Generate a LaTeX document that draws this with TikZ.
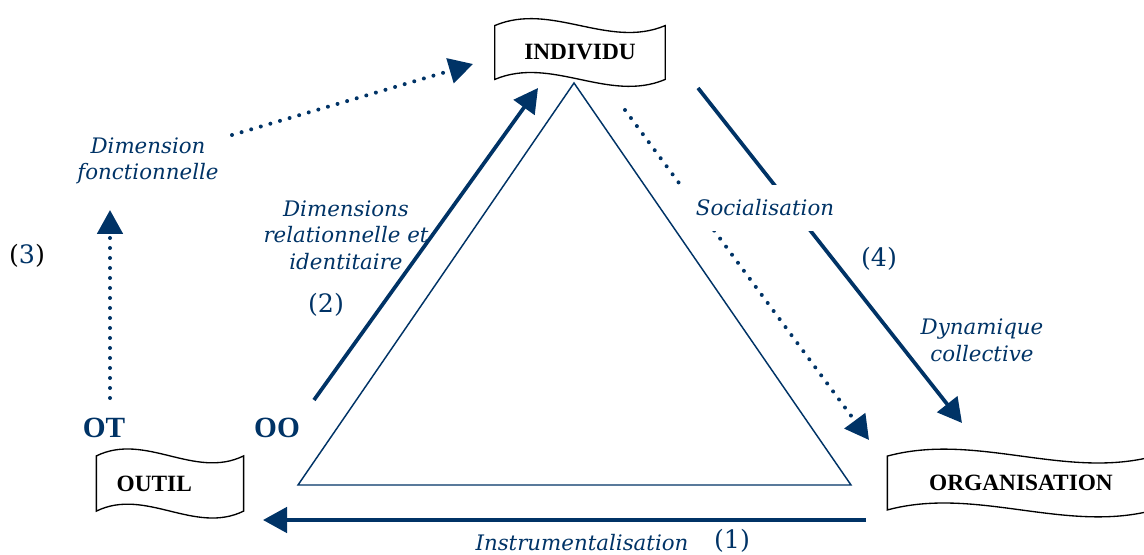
\documentclass[tikz,border=0pt]{standalone}
\usepackage{fontspec}
\setmainfont{DejaVu Serif}
\newfontfamily\timesfont{Liberation Serif}
\usetikzlibrary{arrows.meta,calc}
\definecolor{navy}{RGB}{0,51,102}

\begin{document}
\begin{tikzpicture}[x=0.75pt,y=-0.75pt]
  \tikzstyle{banner}=[inner sep=0pt,font=\timesfont\bfseries\fontsize{17.5}{20}\selectfont]
  \tikzstyle{lab}=[text=navy,font=\itshape\fontsize{16}{20}\selectfont,align=center,inner sep=0pt]
  \tikzstyle{num}=[text=navy,font=\fontsize{19}{22}\selectfont,inner sep=0pt]
  \tikzstyle{big}=[text=navy,font=\timesfont\bfseries\fontsize{22}{24}\selectfont,inner sep=0pt]
  \tikzstyle{arr}=[navy,line width=2.8pt,-{Triangle[length=18pt,width=19pt]}]
  \tikzstyle{dots}=[arr,line width=3pt,line cap=round,dash pattern=on 0pt off 7.5pt]
  \useasboundingbox (0,0) rectangle (1144,555);
  % triangle
  \draw[navy,line width=1.1pt] (574,83) -- (298,485) -- (851,485) -- cycle;
  % banners
  \node[banner,minimum width=127.5pt,minimum height=40pt] (individu) at (580,52.5) {INDIVIDU};
  \node[banner,minimum width=110pt,minimum height=41pt,text width=80pt,align=left] (outil) at (170,483.5) {OUTIL};
  \node[banner,minimum width=200pt,minimum height=40pt] (organisation) at (1021,483) {ORGANISATION};
  \foreach \n in {individu,outil,organisation}
    \draw[line width=1pt] (\n.north west)
      .. controls ($(\n.north west)!1/3!(\n.north east)+(0,-24)$) and ($(\n.north west)!2/3!(\n.north east)+(0,24)$) .. (\n.north east)
      -- (\n.south east)
      .. controls ($(\n.south west)!2/3!(\n.south east)+(0,24)$) and ($(\n.south west)!1/3!(\n.south east)+(0,-24)$) .. (\n.south west)
      -- cycle;
  % labels
  \node[big] (ot) at (104,428) {OT};
  \node[big] (oo) at (277,428) {OO};
  \node[lab] (fonct) at (148,161) {Dimension\\fonctionnelle};
  \node[lab] (relid) at (346,235) {Dimensions\\relationnelle et\\identitaire};
  \node[lab] (dyn) at (982,340) {Dynamique\\collective};
  \node[lab] (instr) at (582,543) {Instrumentalisation};
  \node[num] (n1) at (732,541) {(1)};
  \node[num] (n2) at (326,305) {(2)};
  \node[num] (n3) at (27,256) {\textcolor{black}{(}3\textcolor{black}{)}};
  \node[num] (n4) at (879,259) {(4)};
  % free ends
  \coordinate (instr r) at (866,520);
  \coordinate (instr l) at (263,520);
  \coordinate (oo top) at (314,400);
  \coordinate (ind bl) at (538,88);
  \coordinate (ind br) at (698,88);
  \coordinate (org tr) at (962,423);
  \coordinate (ind bm) at (625,110);
  \coordinate (org tl) at (869,440);
  \coordinate (ot top) at (110,398);
  \coordinate (fonct bot) at (110,210);
  \coordinate (fonct r) at (232,135);
  \coordinate (ind l) at (473,64);
  % arrows
  \draw[arr] (instr r) -- (instr l);
  \draw[arr] (oo top) -- (ind bl);
  \draw[arr] (ind br) -- (org tr);
  \draw[dots] (ind bm) -- (org tl);
  \draw[dots] (ot top) -- (fonct bot);
  \draw[dots] (fonct r) -- (ind l);
  \node[lab,fill=white,minimum width=127pt,minimum height=35pt] (social) at (765,208) {Socialisation};
\end{tikzpicture}
\end{document}
